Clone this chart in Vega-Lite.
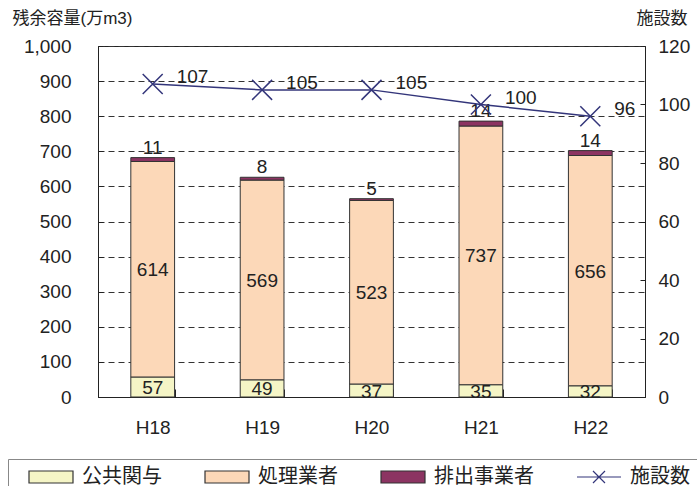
{
  "$schema": "https://vega.github.io/schema/vega-lite/v6.json",
  "width": 547,
  "height": 351,
  "autosize": {"type": "none"},
  "padding": {"left": 98, "top": 46, "right": 52, "bottom": 89},
  "background": "white",
  "config": {
    "font": "Liberation Sans, Noto Sans CJK JP",
    "view": {"stroke": "#222", "strokeWidth": 1},
    "axis": {
      "labelColor": "#222",
      "labelFontSize": 19,
      "labelFont": "Liberation Sans, Noto Sans CJK JP",
      "domainColor": "#222",
      "tickColor": "#222",
      "titleColor": "#222",
      "titleFontWeight": "normal",
      "titleFont": "Liberation Sans, Noto Sans CJK JP"
    },
    "axisLeft": {
      "values": [0, 100, 200, 300, 400, 500, 600, 700, 800, 900, 1000],
      "labelOverlap": false
    }
  },
  "datasets": {
    "bars": [
      {"year": "H18", "series": "公共関与", "value": 57},
      {"year": "H18", "series": "処理業者", "value": 614},
      {"year": "H18", "series": "排出事業者", "value": 11},
      {"year": "H19", "series": "公共関与", "value": 49},
      {"year": "H19", "series": "処理業者", "value": 569},
      {"year": "H19", "series": "排出事業者", "value": 8},
      {"year": "H20", "series": "公共関与", "value": 37},
      {"year": "H20", "series": "処理業者", "value": 523},
      {"year": "H20", "series": "排出事業者", "value": 5},
      {"year": "H21", "series": "公共関与", "value": 35},
      {"year": "H21", "series": "処理業者", "value": 737},
      {"year": "H21", "series": "排出事業者", "value": 14},
      {"year": "H22", "series": "公共関与", "value": 32},
      {"year": "H22", "series": "処理業者", "value": 656},
      {"year": "H22", "series": "排出事業者", "value": 14}
    ],
    "counts": [
      {"year": "H18", "count": 107},
      {"year": "H19", "count": 105},
      {"year": "H20", "count": 105},
      {"year": "H21", "count": 100},
      {"year": "H22", "count": 96}
    ]
  },
  "layer": [
    {
      "data": {"name": "bars"},
      "encoding": {
        "x": {
          "field": "year",
          "type": "nominal",
          "title": null,
          "scale": {"paddingInner": 0.6, "paddingOuter": 0.3},
          "axis": {
            "orient": "bottom",
            "labelAngle": 0,
            "tickBand": "extent",
            "tickSize": -8,
            "labelPadding": 29,
            "labelFontSize": 19
          }
        }
      },
      "layer": [
        {
          "mark": {"type": "bar", "stroke": "#333", "strokeWidth": 1},
          "encoding": {
            "y": {
              "field": "value",
              "type": "quantitative",
              "stack": "zero",
              "title": "残余容量(万m3)",
              "scale": {"domain": [0, 1000]},
              "axis": {
                "orient": "left",
                "values": [0, 100, 200, 300, 400, 500, 600, 700, 800, 900, 1000],
                "labelOverlap": false,
                "format": ",d",
                "grid": true,
                "gridDash": [6, 4],
                "gridColor": "#333",
                "tickSize": -5,
                "labelPadding": 32,
                "titleAngle": 0,
                "titleAlign": "left",
                "titleBaseline": "middle",
                "titleX": -86,
                "titleY": -28,
                "titleFontSize": 17
              }
            },
            "color": {
              "field": "series",
              "type": "nominal",
              "scale": {
                "domain": ["公共関与", "処理業者", "排出事業者", "施設数"],
                "range": ["#F5F5C6", "#FCD8B8", "#8C3462", "#33357A"]
              },
              "legend": {
                "orient": "none",
                "legendX": -90,
                "legendY": 413,
                "direction": "horizontal",
                "columns": 4,
                "title": " ",
                "titleOrient": "left",
                "titleFontSize": 4,
                "titlePadding": 25,
                "labelFontSize": 20,
                "labelFont": "Noto Sans CJK JP",
                "labelColor": "#222",
                "labelOffset": 20,
                "columnPadding": 40,
                "padding": 7,
                "strokeColor": "#888",
                "fillColor": "white",
                "symbolSize": 400,
                "symbolStrokeWidth": 1,
                "symbolStrokeColor": "#333",
                "encode": {
                  "symbols": {
                    "update": {
                      "shape": {"signal": "datum.value === '施設数' ? 'M-2.2,0H2.2M-0.6,-0.6L0.6,0.6M-0.6,0.6L0.6,-0.6' : 'M-2.2,-0.6H2.2V0.6H-2.2Z'"},
                      "fill": {"signal": "datum.value === '施設数' ? 'transparent' : scale('color', datum.value)"},
                      "stroke": {"signal": "datum.value === '施設数' ? '#33357A' : '#333333'"},
                      "strokeWidth": {"value": 1.2},
                      "size": {"value": 400},
                      "opacity": {"value": 1}
                    }
                  }
                }
              }
            },
            "order": {"field": "series", "sort": "ascending"}
          }
        },
        {
          "mark": {"type": "text", "baseline": "middle", "fontSize": 19, "dy": 1, "color": "#222"},
          "encoding": {
            "y": {
              "field": "value",
              "type": "quantitative",
              "stack": "zero",
              "bandPosition": 0.5,
              "title": "残余容量(万m3)",
              "axis": {
                "orient": "left",
                "values": [0, 100, 200, 300, 400, 500, 600, 700, 800, 900, 1000],
                "labelOverlap": false,
                "format": ",d",
                "grid": true,
                "gridDash": [6, 4],
                "gridColor": "#333",
                "tickSize": -5,
                "labelPadding": 32,
                "titleAngle": 0,
                "titleAlign": "left",
                "titleBaseline": "middle",
                "titleX": -86,
                "titleY": -28,
                "titleFontSize": 17
              }
            },
            "detail": {"field": "series"},
            "order": {"field": "series", "sort": "ascending"},
            "text": {
              "condition": {"test": "datum.series !== '排出事業者'", "field": "value", "type": "quantitative"},
              "value": ""
            }
          }
        },
        {
          "mark": {"type": "text", "baseline": "alphabetic", "fontSize": 19, "dy": -4, "color": "#222"},
          "encoding": {
            "y": {
              "field": "value",
              "type": "quantitative",
              "stack": "zero",
              "title": "残余容量(万m3)",
              "axis": {
                "orient": "left",
                "values": [0, 100, 200, 300, 400, 500, 600, 700, 800, 900, 1000],
                "labelOverlap": false,
                "format": ",d",
                "grid": true,
                "gridDash": [6, 4],
                "gridColor": "#333",
                "tickSize": -5,
                "labelPadding": 32,
                "titleAngle": 0,
                "titleAlign": "left",
                "titleBaseline": "middle",
                "titleX": -86,
                "titleY": -28,
                "titleFontSize": 17
              }
            },
            "detail": {"field": "series"},
            "order": {"field": "series", "sort": "ascending"},
            "text": {
              "condition": {"test": "datum.series === '排出事業者'", "field": "value", "type": "quantitative"},
              "value": ""
            }
          }
        }
      ]
    },
    {
      "data": {"name": "counts"},
      "encoding": {
        "x": {"field": "year", "type": "nominal", "title": null},
        "y": {
          "field": "count",
          "type": "quantitative",
          "title": "施設数",
          "scale": {"domain": [0, 120]},
          "axis": {
            "orient": "right",
            "values": [0, 20, 40, 60, 80, 100, 120],
            "grid": false,
            "tickSize": -5,
            "labelPadding": 18,
            "titleAngle": 0,
            "titleAlign": "left",
            "titleBaseline": "middle",
            "titleX": -9,
            "titleY": -28,
            "titleFontSize": 17
          }
        }
      },
      "layer": [
        {"mark": {"type": "line", "color": "#33357A", "strokeWidth": 1.5}},
        {"mark": {"type": "point", "shape": "M-1,-1L1,1M-1,1L1,-1", "size": 400, "filled": false, "color": "#33357A", "strokeWidth": 1.5, "opacity": 1}},
        {
          "mark": {"type": "text", "align": "left", "baseline": "middle", "dx": 24, "dy": -7, "fontSize": 19, "color": "#222"},
          "encoding": {"text": {"field": "count", "type": "quantitative"}}
        }
      ]
    }
  ],
  "resolve": {"scale": {"y": "independent"}}
}
